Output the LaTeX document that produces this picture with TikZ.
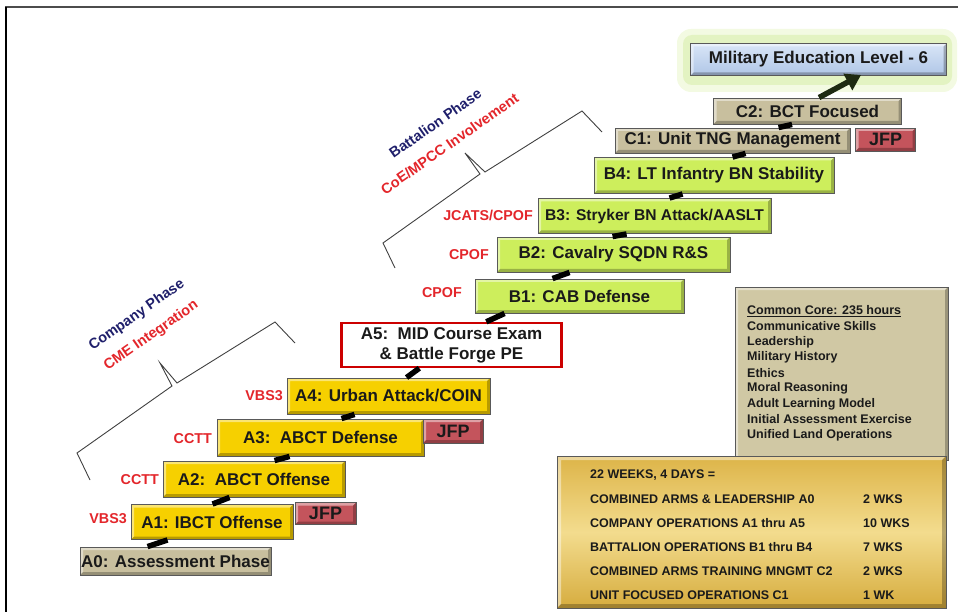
\documentclass[tikz,border=0pt]{standalone}
\usepackage{fontspec}
\setmainfont{Liberation Sans}
\usetikzlibrary{arrows.meta,calc}
\definecolor{yelbox}{HTML}{F6D000}
\definecolor{grnbox}{HTML}{CDEE5C}
\definecolor{tanbox}{HTML}{C8BF9E}
\definecolor{jfpbox}{HTML}{C4545C}
\definecolor{redlab}{HTML}{E3262B}
\definecolor{navylab}{HTML}{1F1F6B}
\definecolor{coretan}{HTML}{D0C8A4}
\definecolor{txt}{HTML}{1A1A1A}
\definecolor{glowA}{HTML}{F3FAE2}
\definecolor{glowB}{HTML}{E3F3C2}
\definecolor{arrowc}{HTML}{1E2A12}
\definecolor{goldA}{HTML}{DDB448}
\definecolor{goldB}{HTML}{F3DC8E}
\definecolor{goldC}{HTML}{D6AC3E}
\definecolor{blueA}{HTML}{D9E6F7}
\definecolor{blueB}{HTML}{AFC6E6}
\tikzset{
  bevel/.style={path picture={
    \coordinate (bsw) at (path picture bounding box.south west);
    \coordinate (bne) at (path picture bounding box.north east);
    \coordinate (bnw) at (bsw|-bne);
    \coordinate (bse) at (bne|-bsw);
    \fill[white,opacity=.45] (bsw) -- (bnw) -- (bne) -- ([shift={(-#1,#1)}]bne) -- ([shift={(#1,#1)}]bnw) -- ([shift={(#1,-#1)}]bsw) -- cycle;
    \fill[black,opacity=.25] (bsw) -- (bse) -- (bne) -- ([shift={(-#1,#1)}]bne) -- ([shift={(-#1,-#1)}]bse) -- ([shift={(#1,-#1)}]bsw) -- cycle;
  }},
  bevel/.default=3,
  box/.style={draw=black!65, line width=0.9pt, inner sep=0pt, text=txt,
    font=\bfseries\fontsize{17}{20}\selectfont, bevel},
  ybox/.style={box, fill=yelbox},
  gbox/.style={box, fill=grnbox},
  tbox/.style={box, fill=tanbox},
  jbox/.style={box, fill=jfpbox, font=\bfseries\fontsize{18}{20}\selectfont},
  bbox/.style={box, top color=blueA, bottom color=blueB},
  abox/.style={draw=red!80!black, line width=2.4pt, fill=white, inner sep=0pt, text=txt,
    align=center, font=\bfseries\fontsize{17}{20}\selectfont},
  redtag/.style={text=redlab, anchor=east, inner sep=0pt, font=\bfseries\fontsize{14.3}{16}\selectfont},
  link/.style={line width=5.5pt, black},
  bracket/.style={draw=black!75, line width=0.9pt, line join=miter},
  phase/.style={rotate=35, inner sep=0pt, align=center, font=\bfseries\fontsize{14.5}{25}\selectfont},
  coreline/.style={anchor=west, inner sep=0pt, text=txt, font=\bfseries\fontsize{12.5}{14}\selectfont},
  goldline/.style={anchor=west, inner sep=0pt, text=txt, font=\bfseries\fontsize{12.5}{14}\selectfont},
}
\begin{document}
\begin{tikzpicture}[x=1pt,y=-1pt]
\useasboundingbox (0,0) rectangle (958,612);
% frame
\draw[line width=2.5pt, black!70] (5,7) -- (958,7);
\draw[line width=1.6pt, black] (6,7) -- (6,612);
% glow around MEL
\fill[glowA, rounded corners=14pt] (677,29) rectangle (957,92);
\fill[glowB, rounded corners=9pt] (683,35) rectangle (952,85);
% boxes
\node[tbox, minimum width=191pt, minimum height=28pt] (A0) at (175.5,561) {A0: Assessment Phase};
\node[ybox, minimum width=162pt, minimum height=35pt] (A1) at (212,522) {A1: IBCT Offense};
\node[jbox, minimum width=61pt, minimum height=22pt] (J1) at (325.5,513.5) {JFP};
\node[ybox, minimum width=182pt, minimum height=36pt] (A2) at (254,479) {A2:\ \ ABCT Offense};
\node[ybox, minimum width=207pt, minimum height=37pt] (A3) at (320.5,437.5) {A3:\ \ ABCT Defense};
\node[jbox, minimum width=60pt, minimum height=24pt] (J3) at (453,431) {JFP};
\node[ybox, minimum width=203pt, minimum height=36pt] (A4) at (388.5,396) {A4: Urban Attack/COIN};
\node[abox, minimum width=220pt, minimum height=44pt] (A5) at (451.5,345) {A5:\ \ MID Course Exam\\\& Battle Forge PE};
\node[gbox, minimum width=209pt, minimum height=34pt] (B1) at (579.5,296) {B1: CAB Defense};
\node[gbox, minimum width=233pt, minimum height=35pt] (B2) at (613.5,254.5) {B2: Cavalry SQDN R\&S};
\node[gbox, minimum width=233pt, minimum height=35pt, font=\bfseries\fontsize{15.6}{18}\selectfont] (B3) at (654.5,216) {B3: Stryker BN Attack/AASLT};
\node[gbox, minimum width=240pt, minimum height=36pt] (B4) at (714,175.5) {B4: LT Infantry BN Stability};
\node[tbox, minimum width=235pt, minimum height=25pt] (C1) at (732.5,140.5) {C1: Unit TNG Management};
\node[jbox, minimum width=60pt, minimum height=23pt] (JC) at (885.5,139.5) {JFP};
\node[tbox, minimum width=188pt, minimum height=26pt] (C2) at (807.5,111) {C2: BCT Focused};
\node[bbox, minimum width=256pt, minimum height=32pt] (MEL) at (818.5,59.5) {Military Education Level - 6};
% links
\draw[link] ($(A0.north west)+(68,0)$) -- ($(A1.south west)+(37,0)$);
\draw[link] ($(A1.north west)+(82,0)$) -- ($(A2.south west)+(67,0)$);
\draw[link] ($(A2.north west)+(112,0)$) -- ($(A3.south west)+(73,0)$);
\draw[link] ($(A3.north west)+(125,0)$) -- ($(A4.south west)+(68,0)$);
\draw[link] ($(A4.north west)+(120,0)$) -- ($(A5.south west)+(79,0)$);
\draw[link] ($(A5.north west)+(146,0)$) -- ($(B1.south west)+(30,0)$);
\draw[link] ($(B1.north west)+(78,0)$) -- ($(B2.south west)+(73,0)$);
\draw[link] ($(B2.north west)+(116,0)$) -- ($(B3.south west)+(89,0)$);
\draw[link] ($(B3.north west)+(132,0)$) -- ($(B4.south west)+(89,0)$);
\draw[link] ($(B4.north west)+(139,0)$) -- ($(C1.south west)+(131,0)$);
\draw[link] ($(C1.north west)+(164,0)$) -- ($(C2.south west)+(79,0)$);
\draw[line width=5.5pt, arrowc, -{Triangle[width=18pt,length=15pt]}] ($(C2.north west)+(106,0)$) -- ($(MEL.south west)+(171,-1)$);
% simulation tags
\node[redtag] (t1) at (127,519) {VBS3};
\node[redtag] (t2) at (159,480) {CCTT};
\node[redtag] (t3) at (212,439) {CCTT};
\node[redtag] (t4) at (283,396) {VBS3};
\node[redtag] (t5) at (462,293) {CPOF};
\node[redtag] (t6) at (489,255) {CPOF};
\node[redtag] (t7) at (533,215) {JCATS/CPOF};
% brackets
\draw[bracket] (90,480) -- (77,453) -- (172,386) -- (160,363) -- (177,383) -- (275,322) -- (295,343);
\draw[bracket] (395,268) -- (383,243) -- (480,174) -- (465,153) -- (485,172) -- (582,111) -- (602,132);
\node[phase] (p1) at (144,325.5) {\textcolor{navylab}{Company Phase}\\\textcolor{redlab}{CME Integration}};
\node[phase] (p2) at (442.5,133.5) {\textcolor{navylab}{Battalion Phase}\\\textcolor{redlab}{CoE/MPCC Involvement}\hspace{16pt}};
% common core box
\node[box, fill=coretan, minimum width=213pt, minimum height=173pt] (core) at (841.5,373.5) {};
\node[coreline] (c0) at (747,311) {\underline{Common Core: 235 hours}};
\node[coreline] (c1) at (747,326.5) {Communicative Skills};
\node[coreline] (c2) at (747,342) {Leadership};
\node[coreline] (c3) at (747,357.5) {Military History};
\node[coreline] (c4) at (747,373) {Ethics};
\node[coreline] (c5) at (747,388.5) {Moral Reasoning};
\node[coreline] (c6) at (747,404) {Adult Learning Model};
\node[coreline] (c7) at (747,419.5) {Initial Assessment Exercise};
\node[coreline] (c8) at (747,435) {Unified Land Operations};
% gold summary box
\node[box, top color=goldA, bottom color=goldC, middle color=goldB, minimum width=389pt, minimum height=152pt, bevel=4] (gold) at (751.5,532) {};
\node[goldline] (g0) at (590,475) {22 WEEKS, 4 DAYS =};
\node[goldline] (g1) at (590,499) {COMBINED ARMS \& LEADERSHIP A0};
\node[goldline] (g2) at (590,523) {COMPANY OPERATIONS A1 thru A5};
\node[goldline] (g3) at (590,547) {BATTALION OPERATIONS B1 thru B4};
\node[goldline] (g4) at (590,571) {COMBINED ARMS TRAINING MNGMT C2};
\node[goldline] (g5) at (590,595) {UNIT FOCUSED OPERATIONS C1};
\node[goldline] (w1) at (863,499) {2 WKS};
\node[goldline] (w2) at (863,523) {10 WKS};
\node[goldline] (w3) at (863,547) {7 WKS};
\node[goldline] (w4) at (863,571) {2 WKS};
\node[goldline] (w5) at (863,595) {1 WK};
\end{tikzpicture}
\end{document}
